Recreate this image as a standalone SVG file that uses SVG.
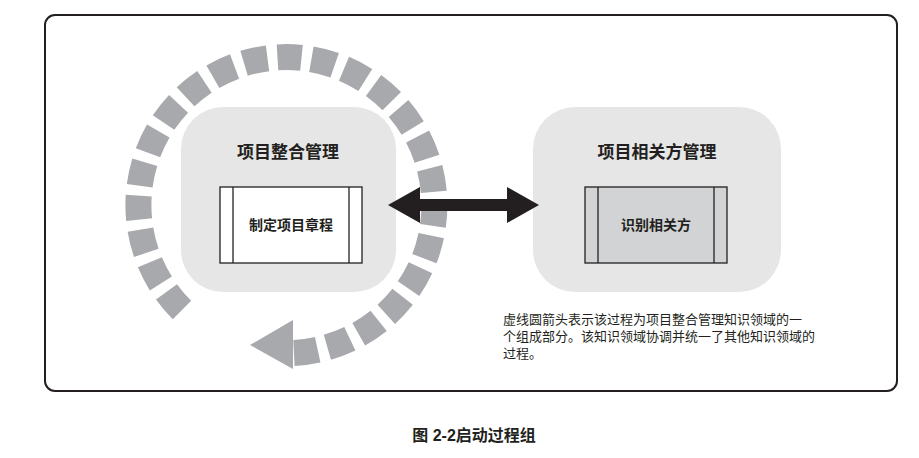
<svg xmlns="http://www.w3.org/2000/svg" width="919" height="458" viewBox="0 0 919 458">
<style>
.t{font-family:"Liberation Sans","Noto Sans CJK SC",sans-serif;fill:#231f20}
.b{font-weight:bold}
.area{fill:#e6e6e6}
.proc{stroke:#231f20;stroke-width:1.3}
</style>
<rect width="919" height="458" fill="#fff"/>
<rect x="45" y="15" width="852" height="376" rx="10" fill="none" stroke="#231f20" stroke-width="2"/>
<g id="cycle">
<path d="M182,310 A148,148 0 1 1 292,353" fill="none" stroke="#a7a9ac" stroke-width="26" stroke-dasharray="24 10"/>
<polygon points="250,345 293,320 293,369" fill="#a7a9ac"/>
</g>
<g id="integration">
<rect class="area" x="181" y="107" width="215" height="185" rx="42"/>
<text class="t b" x="288" y="158" font-size="17" text-anchor="middle">项目整合管理</text>
</g>
<g id="charter">
<rect class="proc" x="220" y="187" width="142" height="76" fill="#fff"/>
<line class="proc" x1="233" y1="187" x2="233" y2="263"/>
<line class="proc" x1="349" y1="187" x2="349" y2="263"/>
<text class="t b" x="291" y="230" font-size="14" text-anchor="middle">制定项目章程</text>
</g>
<g id="stakeholder">
<rect class="area" x="533" y="107" width="248" height="185" rx="42"/>
<text class="t b" x="657" y="158" font-size="17" text-anchor="middle">项目相关方管理</text>
</g>
<g id="identify">
<rect class="proc" x="585" y="187" width="142" height="76" fill="#d1d3d4"/>
<line class="proc" x1="598" y1="187" x2="598" y2="263"/>
<line class="proc" x1="714" y1="187" x2="714" y2="263"/>
<text class="t b" x="656" y="230" font-size="14" text-anchor="middle">识别相关方</text>
</g>
<g id="connectors">
<polygon points="388,205 420,187 420,199 507,199 507,187 539,205 507,223 507,211 420,211 420,223" fill="#231f20"/>
</g>
<g id="note">
<text class="t" font-size="13"><tspan x="503" y="324">虚线圆箭头表示该过程为项目整合管理知识领域的一</tspan><tspan x="503" y="341">个组成部分。该知识领域协调并统一了其他知识领域的</tspan><tspan x="503" y="358">过程。</tspan></text>
</g>
<text class="t b" x="474" y="441" font-size="16" text-anchor="middle">图 2-2启动过程组</text>
</svg>
